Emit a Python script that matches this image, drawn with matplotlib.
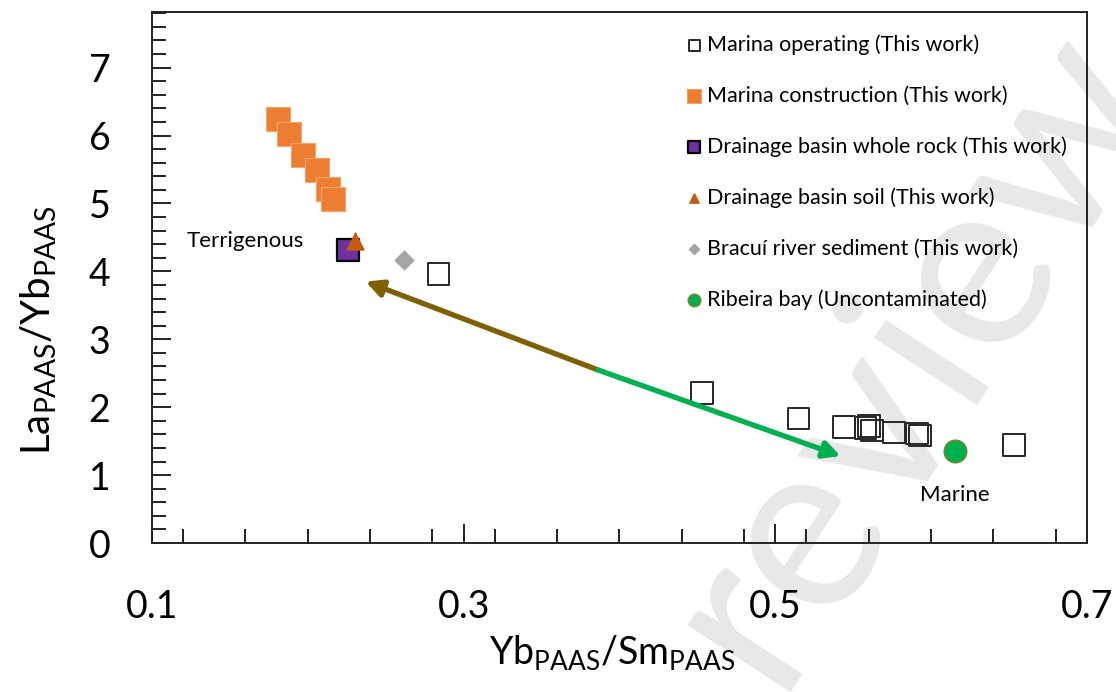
import matplotlib
matplotlib.use("Agg")
import matplotlib.pyplot as plt
from matplotlib.ticker import MultipleLocator, FixedLocator

plt.rcParams["font.family"] = ["Lato", "DejaVu Sans"]
plt.rcParams["mathtext.default"] = "regular"

# Yb/Sm (x) and La/Yb (y), PAAS normalised
op_x = [0.284, 0.453, 0.515, 0.544, 0.558, 0.560, 0.562, 0.576, 0.591, 0.593, 0.653]
op_y = [3.96, 2.21, 1.83, 1.71, 1.69, 1.72, 1.66, 1.63, 1.61, 1.58, 1.44]

con_x = [0.181, 0.188, 0.197, 0.206, 0.213, 0.216]
con_y = [6.25, 6.03, 5.72, 5.50, 5.22, 5.06]

rock_x = [0.226]
rock_y = [4.31]

soil_x = [0.230]
soil_y = [4.45]

river_x = [0.262]
river_y = [4.17]

bay_x = [0.615]
bay_y = [1.36]

# trend arrow: start, split point, end
arrow_start = (0.386, 2.55)
arrow_left = (0.237, 3.85)
arrow_right = (0.542, 1.28)

fig = plt.figure(figsize=(11.16, 6.92), dpi=100)
ax = fig.add_axes([0.1362, 0.2153, 0.8378, 0.7674])
ax.patch.set_alpha(0)

ax.scatter(op_x, op_y, marker="s", s=240, facecolors="none", edgecolors="#262626",
           linewidths=1.4, label="Marina operating (This work)", zorder=3)
ax.scatter(con_x, con_y, marker="s", s=300, color="#ED7D31", edgecolors="#F4A36A",
           linewidths=0.8, label="Marina construction (This work)", zorder=3)
ax.scatter(rock_x, rock_y, marker="s", s=230, color="#7030A0", edgecolors="black",
           linewidths=1.6, label="Drainage basin whole rock (This work)", zorder=3)
ax.scatter(soil_x, soil_y, marker="^", s=150, color="#C55A11",
           label="Drainage basin soil (This work)", zorder=4)
ax.scatter(river_x, river_y, marker="D", s=90, color="#A5A5A5",
           label="Bracuí river sediment (This work)", zorder=3)
ax.scatter(bay_x, bay_y, marker="o", s=260, color="#00B050", edgecolors="#6A8B2A",
           linewidths=1.2, label="Ribeira bay (Uncontaminated)", zorder=3)

ax.annotate("", xy=arrow_left, xytext=arrow_start,
            arrowprops=dict(arrowstyle="-|>,head_length=1.0,head_width=0.5",
                            color="#7F6000", lw=3.8, shrinkA=0, shrinkB=0))
ax.annotate("", xy=arrow_right, xytext=arrow_start,
            arrowprops=dict(arrowstyle="-|>,head_length=1.0,head_width=0.5",
                            color="#00B050", lw=3.8, shrinkA=0, shrinkB=0))

ax.text(0.160, 4.45, "Terrigenous", fontsize=16, ha="center", va="center")
ax.text(0.615, 0.71, "Marine", fontsize=16, ha="center", va="center")

ax.set_xlim(0.1, 0.7)
ax.set_ylim(0, 7.82)
ax.xaxis.set_major_locator(FixedLocator([0.1, 0.3, 0.5, 0.7]))
ax.xaxis.set_minor_locator(MultipleLocator(0.04))
ax.yaxis.set_major_locator(MultipleLocator(1))
ax.yaxis.set_minor_locator(MultipleLocator(0.2))
ax.tick_params(which="both", direction="in", top=False, right=False, width=1.4,
               color="#222222")
ax.tick_params(which="major", length=14, labelsize=27, pad=30)
ax.tick_params(which="minor", length=10)
ax.tick_params(axis="x", which="major", length=14, pad=33)
for s in ax.spines.values():
    s.set_linewidth(1.4)
    s.set_color("#222222")

ax.set_xlabel("Yb$_{PAAS}$/Sm$_{PAAS}$", fontsize=27)
ax.set_ylabel("La$_{PAAS}$/Yb$_{PAAS}$", fontsize=29)
ax.xaxis.set_label_coords(0.492, -0.17)
ax.yaxis.set_label_coords(-0.10, 0.40)

leg = ax.legend(loc="upper right", frameon=False, fontsize=15.5, markerscale=0.55,
                labelspacing=1.42, handlelength=0.6, handletextpad=0.3,
                borderaxespad=0.3, bbox_to_anchor=(0.995, 0.986))

# light diagonal watermark behind the plot
fig.text(0.818, 0.49, "review", fontsize=175, color="#E8E8E8", rotation=57,
         ha="center", va="center", zorder=-1)

fig.savefig("out.png", dpi=100)
